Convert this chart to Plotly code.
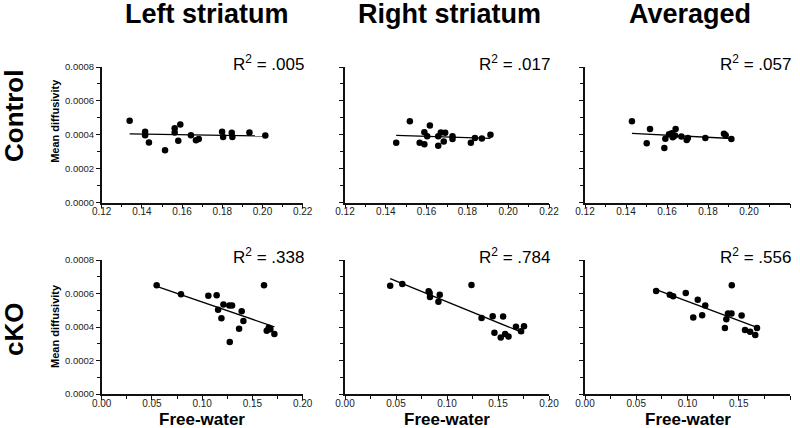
import numpy as np
import plotly.graph_objects as go

W, H = 800, 428

col_titles = ["Left striatum", "Right striatum", "Averaged"]
row_titles = ["Control", "cKO"]
r2_labels = [[".005", ".017", ".057"], [".338", ".784", ".556"]]

# Control row (x: free-water, y: mean diffusivity)
ctrl_left_x = [0.1339, 0.1416, 0.1416, 0.1435, 0.1515, 0.1563, 0.1563, 0.1581, 0.1591,
               0.1644, 0.1669, 0.1683, 0.1799, 0.1804, 0.1847, 0.1850, 0.1935, 0.2014]
ctrl_left_y = [0.000483, 0.000418, 0.000398, 0.000355, 0.000309, 0.000439, 0.000414, 0.000365, 0.000461,
               0.000398, 0.000368, 0.000376, 0.000418, 0.000388, 0.000412, 0.000388, 0.000414, 0.000396]
ctrl_right_x = [0.1451, 0.1518, 0.1566, 0.1589, 0.1589, 0.1603, 0.1616, 0.1657, 0.1657,
                0.1670, 0.1684, 0.1691, 0.1727, 0.1727, 0.1817, 0.1837, 0.1871, 0.1913]
ctrl_right_y = [0.000353, 0.000480, 0.000353, 0.000345, 0.000416, 0.000392, 0.000455, 0.000392, 0.000336,
                0.000414, 0.000361, 0.000412, 0.000392, 0.000375, 0.000353, 0.000382, 0.000379, 0.000400]
ctrl_avg_x = [0.1429, 0.1501, 0.1517, 0.1592, 0.1587, 0.1610, 0.1623, 0.1628, 0.1639,
              0.1642, 0.1670, 0.1696, 0.1702, 0.1787, 0.1878, 0.1886, 0.1914]
ctrl_avg_y = [0.000480, 0.000351, 0.000435, 0.000377, 0.000322, 0.000404, 0.000410, 0.000386, 0.000396,
              0.000435, 0.000390, 0.000369, 0.000382, 0.000382, 0.000406, 0.000398, 0.000375]

# cKO row
cko_left_x = [0.0547, 0.0789, 0.1061, 0.1144, 0.1158, 0.1191, 0.1211, 0.1270, 0.1297,
              0.1274, 0.1367, 0.1393, 0.1410, 0.1615, 0.1642, 0.1662, 0.1678, 0.1718]
cko_left_y = [0.000649, 0.000595, 0.000587, 0.000589, 0.000503, 0.000452, 0.000535, 0.000529, 0.000529,
              0.000310, 0.000390, 0.000494, 0.000436, 0.000649, 0.000378, 0.000396, 0.000386, 0.000358]
cko_right_x = [0.0443, 0.0562, 0.0820, 0.0830, 0.0833, 0.0929, 0.0916, 0.1240, 0.1339,
               0.1448, 0.1550, 0.1465, 0.1527, 0.1570, 0.1603, 0.1676, 0.1726, 0.1755]
cko_right_y = [0.000647, 0.000657, 0.000613, 0.000603, 0.000579, 0.000593, 0.000551, 0.000651, 0.000454,
               0.000464, 0.000462, 0.000366, 0.000338, 0.000358, 0.000344, 0.000402, 0.000374, 0.000404]
cko_avg_x = [0.0694, 0.0827, 0.0860, 0.0983, 0.1056, 0.1100, 0.1143, 0.1173, 0.1365,
             0.1379, 0.1395, 0.1429, 0.1432, 0.1528, 0.1561, 0.1611, 0.1661, 0.1678]
cko_avg_y = [0.000615, 0.000593, 0.000583, 0.000603, 0.000456, 0.000563, 0.000470, 0.000529, 0.000394,
             0.000446, 0.000480, 0.000480, 0.000649, 0.000468, 0.000382, 0.000372, 0.000352, 0.000394]

panels = [
    [(ctrl_left_x, ctrl_left_y), (ctrl_right_x, ctrl_right_y), (ctrl_avg_x, ctrl_avg_y)],
    [(cko_left_x, cko_left_y), (cko_right_x, cko_right_y), (cko_avg_x, cko_avg_y)],
]

x_ranges = [[0.12, 0.22], [0.0, 0.2]]
x_dticks = [0.02, 0.05]
x_minor = [0.01, 0.025]
y_range = [0, 0.0008]

# layout geometry (pixels)
col_px = [(101.7, 302.7), (345, 549), (585, 790)]
row_px = [(67, 202.7), (260, 394)]

FONT = "Liberation Sans, Arial, Helvetica, sans-serif"
fig = go.Figure()
layout = dict()
annotations = []

for r in range(2):
    for c in range(3):
        idx = r * 3 + c + 1
        xa = "x" if idx == 1 else f"x{idx}"
        ya = "y" if idx == 1 else f"y{idx}"
        xs, ys = panels[r][c]
        fig.add_trace(go.Scatter(x=xs, y=ys, mode="markers", xaxis=xa, yaxis=ya,
                                 marker=dict(color="black", size=6.5), showlegend=False,
                                 cliponaxis=False))
        m, b = np.polyfit(xs, ys, 1)
        lx = [min(xs), max(xs)]
        ly = [m * v + b for v in lx]
        fig.add_trace(go.Scatter(x=lx, y=ly, mode="lines", xaxis=xa, yaxis=ya,
                                 line=dict(color="black", width=1.3), showlegend=False))
        x0, x1 = col_px[c]
        y0, y1 = row_px[r]
        xdom = [x0 / W, x1 / W]
        ydom = [1 - y1 / H, 1 - y0 / H]
        layout["xaxis" if idx == 1 else f"xaxis{idx}"] = dict(
            domain=xdom, range=x_ranges[r], anchor=ya, showline=True, linecolor="#111",
            linewidth=1.5, showgrid=False, zeroline=False, ticks="outside", ticklen=4,
            tickwidth=1.2, tickcolor="#111", dtick=x_dticks[r], tick0=0, tickformat=".2f",
            automargin=False, ticklabelstandoff=-5,
            tickfont=dict(size=10, color="#222", family=FONT),
            minor=dict(ticks="outside", ticklen=3, tickwidth=1.2, tickcolor="#111",
                       dtick=x_minor[r], tick0=0, showgrid=False),
        )
        layout["yaxis" if idx == 1 else f"yaxis{idx}"] = dict(
            domain=ydom, range=y_range, anchor=xa, showline=True, linecolor="#111",
            linewidth=1.5, showgrid=False, zeroline=False, ticks="outside", ticklen=4,
            tickwidth=1.2, tickcolor="#111", dtick=0.0002, tick0=0, tickformat=".4f",
            showticklabels=(c == 0), ticklabelstandoff=0, automargin=False,
            tickfont=dict(size=9.5, color="#222", family=FONT),
            minor=dict(ticks="outside", ticklen=3, tickwidth=1.2, tickcolor="#111",
                       dtick=0.0001, tick0=0, showgrid=False),
        )
        # R^2 label
        annotations.append(dict(text=f"R<sup>2</sup> = {r2_labels[r][c]}", xref="paper", yref="paper",
                                x=(x1 + 3) / W, y=1 - (y0 - 4) / H, xanchor="right", yanchor="middle",
                                showarrow=False, font=dict(size=17, color="black", family=FONT)))
        if c == 0:
            annotations.append(dict(text="<b>Mean diffusivity</b>", xref="paper", yref="paper",
                                    x=55 / W, y=1 - ((y0 + y1) / 2 - 14 if r == 0 else (y0 + y1) / 2 - 1) / H,
                                    textangle=-90, xanchor="center", yanchor="middle", showarrow=False,
                                    font=dict(size=11, color="black", family=FONT)))
        if r == 1:
            annotations.append(dict(text="<b>Free-water</b>", xref="paper", yref="paper",
                                    x=(x0 + x1) / 2 / W, y=1 - 419 / H, xanchor="center", yanchor="middle",
                                    showarrow=False, font=dict(size=17, color="black", family=FONT)))

col_centers = [207, 449, 690]
for c in range(3):
    annotations.append(dict(text=f"<b>{col_titles[c]}</b>", xref="paper", yref="paper",
                            x=col_centers[c] / W, y=1 - 14 / H, xanchor="center", yanchor="middle",
                            showarrow=False, font=dict(size=27, color="black", family=FONT)))
row_centers = [116, 330]
for r in range(2):
    annotations.append(dict(text=f"<b>{row_titles[r]}</b>", xref="paper", yref="paper",
                            x=14 / W, y=1 - row_centers[r] / H, xanchor="center", yanchor="middle",
                            textangle=-90, showarrow=False,
                            font=dict(size=26, color="black", family=FONT)))

fig.update_layout(template="none")
fig.update_layout(**layout)
fig.update_layout(width=W, height=H, margin=dict(l=0, r=0, t=0, b=0, pad=0, autoexpand=False),
                  paper_bgcolor="white", plot_bgcolor="white", showlegend=False,
                  annotations=annotations, font=dict(family=FONT))
fig.write_html("out.html", config={"displayModeBar": False},
               post_script="document.body.style.margin='0';document.body.style.overflow='hidden';")
